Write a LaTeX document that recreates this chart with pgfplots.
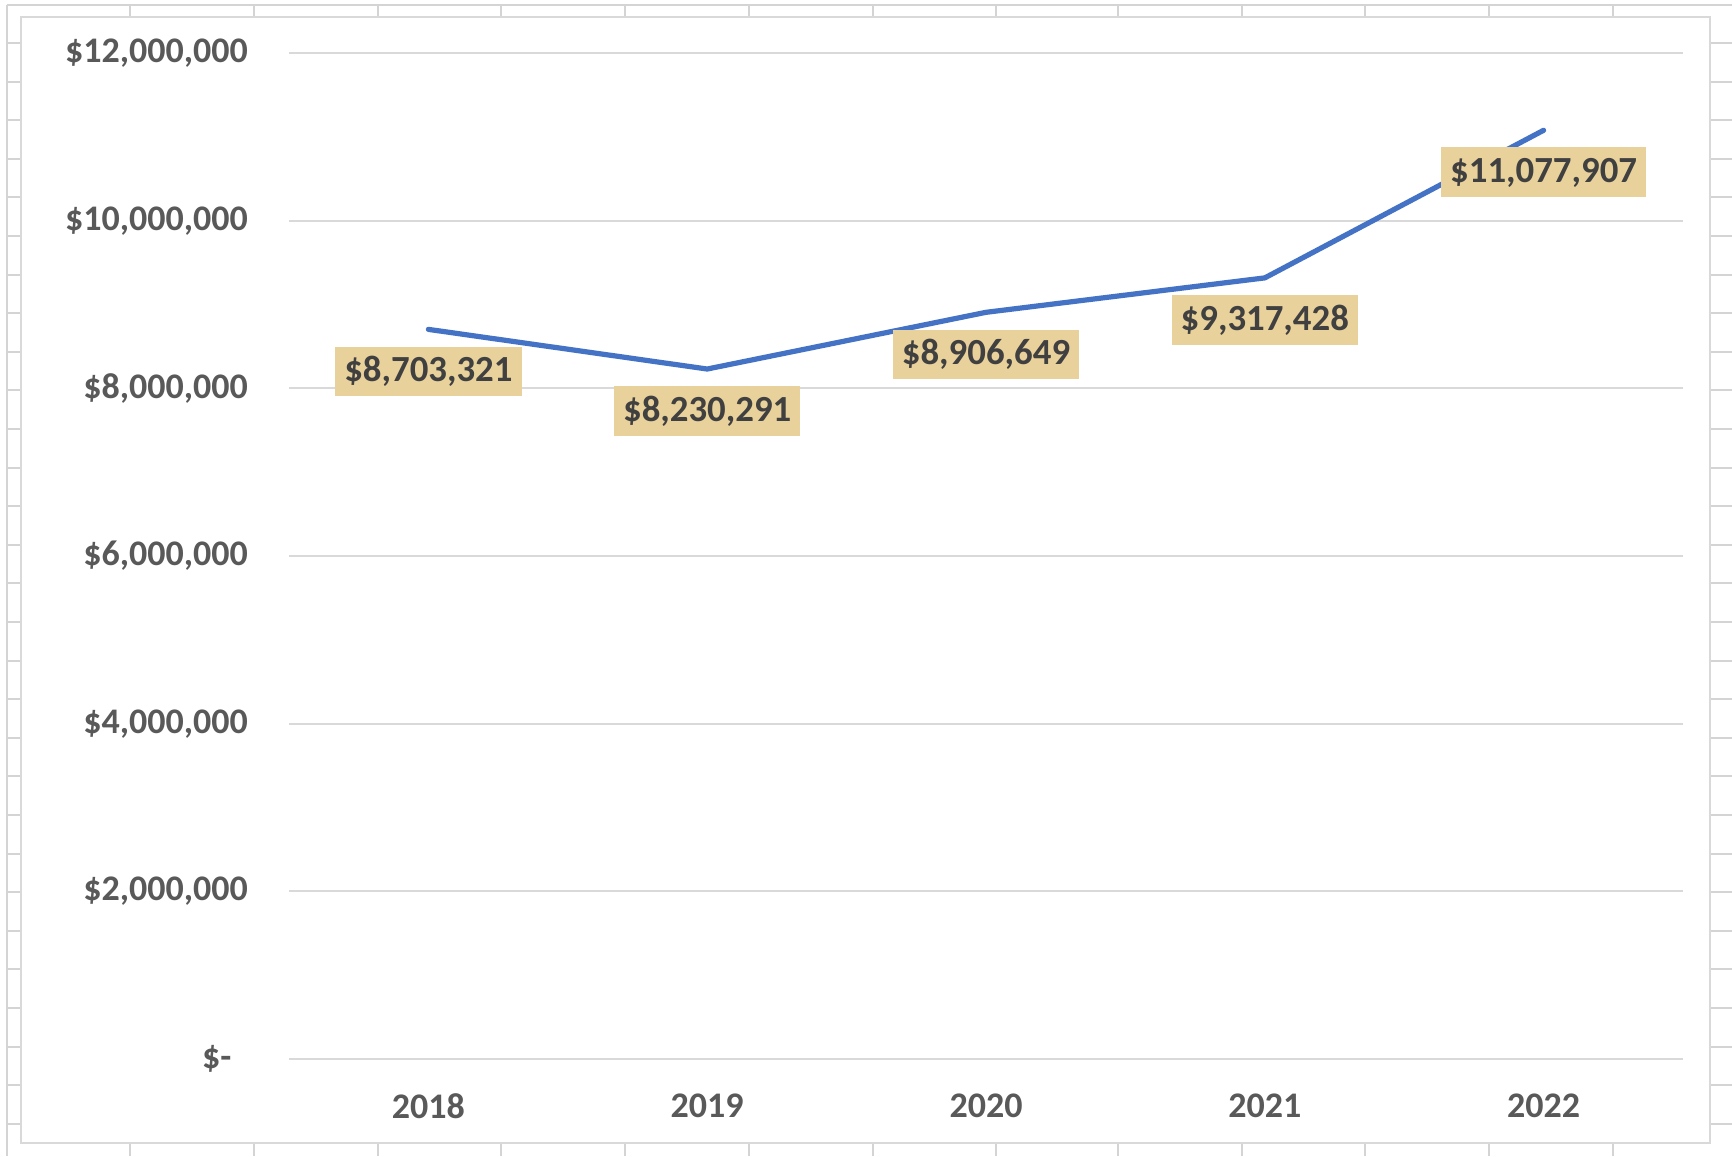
\documentclass[border=0pt]{standalone}
\usepackage{pgfplots}
\pgfplotsset{compat=1.18}
\usepackage{fontspec}
\setmainfont{Carlito}
\definecolor{sheetgrid}{HTML}{D4D4D4}
\definecolor{chartborder}{HTML}{D9D9D9}
\definecolor{gridc}{HTML}{D9D9D9}
\definecolor{linec}{HTML}{4472C4}
\definecolor{tickc}{HTML}{595959}
\definecolor{labc}{HTML}{404040}
\definecolor{labfill}{HTML}{E8D19B}
\begin{document}
\begin{tikzpicture}[x=0.25pt,y=0.25pt]
\useasboundingbox (0,0) rectangle (1732,1156);
\fill[white] (0,0) rectangle (1732,1156);
% spreadsheet grid behind the chart
\begin{scope}[draw=sheetgrid,line width=0.5pt]
\draw (7,1151) -- (1732,1151);
\draw (7,1151) -- (7,0);
\foreach \cx in {130,254,378,501,625,749,873,996,1118,1242,1365,1489,1613}{
  \draw (\cx,1151) -- (\cx,1139);
  \draw (\cx,13) -- (\cx,0);
}
\foreach \k in {0,...,29}{
  \pgfmathsetmacro{\ry}{1156-43-38.6*\k}
  \draw (7,\ry) -- (21,\ry);
  \draw (1710,\ry) -- (1732,\ry);
}
\end{scope}
\filldraw[fill=white,draw=chartborder,line width=0.5pt] (21,13) rectangle (1710,1139);
\begin{axis}[
  at={(72.25pt,24.25pt)}, anchor=south west,
  scale only axis, width=348.5pt, height=251.5pt,
  xmin=-0.5, xmax=4.5, ymin=0, ymax=12000000,
  axis line style={draw=none},
  tick style={draw=none},
  ymajorgrids, major grid style={gridc,line width=0.5pt},
  xtick={0,1,2,3,4},
  xticklabels={2018,2019,2020,2021,2022},
  ytick={0,2000000,4000000,6000000,8000000,10000000,12000000},
  yticklabels={\$-\kern4.1pt,{\$2,000,000},{\$4,000,000},{\$6,000,000},{\$8,000,000},{\$10,000,000},{\$12,000,000}},
  scaled y ticks=false,
  tick label style={font=\fontsize{9}{10}\selectfont\bfseries, text=tickc, inner sep=0pt},
  xticklabel style={anchor=center, yshift=-11.8pt},
  yticklabel style={anchor=east, xshift=-10.1pt},
  clip=false,
]
\addplot[linec, line width=1.3pt, line cap=round, line join=round, mark=none,
  point meta=explicit symbolic,
  nodes near coords,
  every node near coord/.append style={
    anchor=center, yshift=-10.5pt,
    fill=labfill, text=labc,
    font=\fontsize{9.2}{10}\selectfont\bfseries,
    inner xsep=2.3pt, inner ysep=0pt,
    text height=6.6pt, text depth=1.4pt,
    minimum height=12.4pt}
] coordinates {
  (0,8703321) [\$8,703,321]
  (1,8230291) [\$8,230,291]
  (2,8906649) [\$8,906,649]
  (3,9317428) [\$9,317,428]
  (4,11077907) [\$11,077,907]
};
\end{axis}
\end{tikzpicture}
\end{document}
